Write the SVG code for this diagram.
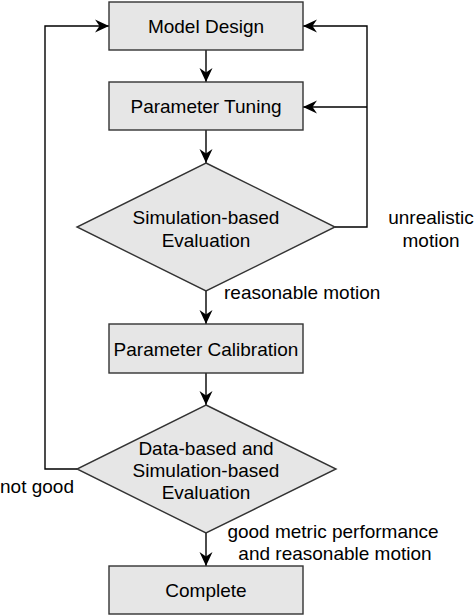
<svg xmlns="http://www.w3.org/2000/svg" width="476" height="616" viewBox="0 0 476 616">
  <defs>
    <marker id="arr" markerUnits="userSpaceOnUse" markerWidth="16" markerHeight="16" viewBox="-15 -8 16 16" refX="0" refY="0" orient="auto">
      <path d="M0,0 L-14,-6.5 L-9.5,0 L-14,6.5 Z" fill="#000"/>
    </marker>
  </defs>
  <style>
    .box { fill: #e6e6e6; stroke: #333; stroke-width: 1.4; }
    .edge { fill: none; stroke: #000; stroke-width: 1.4; }
    text { font-family: "Liberation Sans", Arial, Helvetica, sans-serif; font-size: 19px; fill: #000; }
    .c { text-anchor: middle; }
  </style>
  <rect width="476" height="616" fill="#fff"/>
  <g id="connectors">
    <path class="edge" d="M206,50 L206,82" marker-end="url(#arr)"/>
    <path class="edge" d="M206,130 L206,163" marker-end="url(#arr)"/>
    <path class="edge" d="M206,291 L206,324" marker-end="url(#arr)"/>
    <path class="edge" d="M206,373 L206,405" marker-end="url(#arr)"/>
    <path class="edge" d="M206,533 L206,566" marker-end="url(#arr)"/>
    <path class="edge" d="M335,227 L367,227 L367,26 L303,26" marker-end="url(#arr)"/>
    <path class="edge" d="M367,107 L303,107" marker-end="url(#arr)"/>
    <path class="edge" d="M77,469 L45,469 L45,26 L109,26" marker-end="url(#arr)"/>
    <text class="c" x="431" y="224">unrealistic</text>
    <text class="c" x="431" y="247">motion</text>
    <text x="224" y="299">reasonable motion</text>
    <text x="0" y="493">not good</text>
    <text class="c" x="333" y="538">good metric performance</text>
    <text class="c" x="335" y="560">and reasonable motion</text>
  </g>
  <g id="model-design">
    <rect class="box" x="109" y="2" width="194" height="48"/>
    <text class="c" x="206" y="33">Model Design</text>
  </g>
  <g id="parameter-tuning">
    <rect class="box" x="109" y="82" width="194" height="48"/>
    <text class="c" x="206" y="113">Parameter Tuning</text>
  </g>
  <g id="simulation-evaluation">
    <polygon class="box" points="206,163 335,227 206,291 77,227"/>
    <text class="c" x="206" y="224">Simulation-based</text>
    <text class="c" x="206" y="247">Evaluation</text>
  </g>
  <g id="parameter-calibration">
    <rect class="box" x="109" y="324" width="194" height="49"/>
    <text class="c" x="206" y="356">Parameter Calibration</text>
  </g>
  <g id="data-simulation-evaluation">
    <polygon class="box" points="206,405 336,469 206,533 77,469"/>
    <text class="c" x="206" y="455">Data-based and</text>
    <text class="c" x="206" y="477">Simulation-based</text>
    <text class="c" x="206" y="499">Evaluation</text>
  </g>
  <g id="complete">
    <rect class="box" x="109" y="566" width="194" height="48"/>
    <text class="c" x="206" y="597">Complete</text>
  </g>
</svg>
